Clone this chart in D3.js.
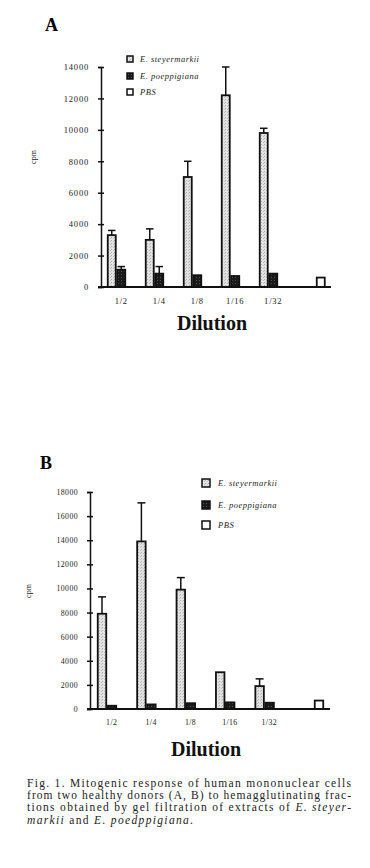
<!DOCTYPE html>
<html>
<head>
<meta charset="utf-8">
<script src="https://cdn.jsdelivr.net/npm/d3@7"></script>
<style>
  body { margin: 0; background: #fff; }
  svg { display: block; }
</style>
</head>
<body>
<svg id="fig" width="370" height="868"></svg>
<script>
    // 数据
    const dilutions = ["1/2", "1/4", "1/8", "1/16", "1/32", "PBS"]
    const seriesNames = ["E. steyermarkii", "E. poeppigiana", "PBS"]

    const aSteyermarkii = [3300, 3000, 7000, 12200, 9800, null]
    const aSteyermarkiiErr = [300, 700, 1000, 1800, 300, null]
    const aPoeppigiana = [1100, 850, 750, 700, 850, null]
    const aPoeppigianaErr = [200, 450, 0, 0, 0, null]
    const aPBS = [null, null, null, null, null, 600]
    const aTicks = [0, 2000, 4000, 6000, 8000, 10000, 12000, 14000]

    const bSteyermarkii = [7900, 13900, 9900, 3050, 1900, null]
    const bSteyermarkiiErr = [1400, 3200, 1000, 0, 600, null]
    const bPoeppigiana = [270, 380, 480, 550, 520, null]
    const bPoeppigianaErr = [0, 0, 0, 0, 0, null]
    const bPBS = [null, null, null, null, null, 700]
    const bTicks = [0, 2000, 4000, 6000, 8000, 10000, 12000, 14000, 16000, 18000]

    const captionLines = [
      [{t: "Fig. 1. Mitogenic response of human mononuclear cells"}],
      [{t: "from two healthy donors (A, B) to hemagglutinating frac-"}],
      [{t: "tions obtained by gel filtration of extracts of "}, {t: "E. steyer-", i: true}],
      [{t: "markii", i: true}, {t: " and "}, {t: "E. poedppigiana.", i: true}]
    ]

    const serif = "Liberation Serif, DejaVu Serif, serif"

    const svg = d3.select("#fig")
      .attr("font-family", serif)

    // 填充图案
    const defs = svg.append("defs")
    const light = defs.append("pattern").attr("id", "light")
      .attr("width", 3).attr("height", 3).attr("patternUnits", "userSpaceOnUse")
    light.append("rect").attr("width", 3).attr("height", 3).attr("fill", "#e4e4e4")
    light.append("rect").attr("width", 1).attr("height", 1).attr("fill", "#a8a8a8")
    light.append("rect").attr("x", 2).attr("y", 1).attr("width", 1).attr("height", 1).attr("fill", "#bdbdbd")
    const dark = defs.append("pattern").attr("id", "dark")
      .attr("width", 3).attr("height", 3).attr("patternUnits", "userSpaceOnUse")
    dark.append("rect").attr("width", 3).attr("height", 3).attr("fill", "#1a1a1a")
    dark.append("rect").attr("x", 1).attr("y", 1).attr("width", 1).attr("height", 1).attr("fill", "#555")

    const fills = ["url(#light)", "url(#dark)", "#fff"]

    function drawPanel(cfg) {
      const g = svg.append("g").attr("font-family", serif)
      const series = [
        {vals: cfg.st, errs: cfg.stErr},
        {vals: cfg.po, errs: cfg.poErr},
        {vals: cfg.pbs, errs: null}
      ]

      const y = d3.scaleLinear()
        .domain([0, d3.max(cfg.ticks)])
        .range([cfg.y0, cfg.y1])

      const x0 = d3.scaleBand()
        .domain(dilutions)
        .range([cfg.x0, cfg.x0 + cfg.step * dilutions.length])
        .paddingInner(0).paddingOuter(0)

      const x1 = d3.scaleBand()
        .domain(d3.range(series.length))
        .range([0, cfg.barW * series.length])

      // 柱子
      series.forEach((s, si) => {
        const data = dilutions.map((d, i) => ({cat: d, v: s.vals[i], e: s.errs ? s.errs[i] : 0}))
          .filter(d => d.v != null)

        g.append("g").selectAll("rect")
          .data(data)
          .join("rect")
          .attr("x", d => x0(d.cat) + x1(si) + 0.75)
          .attr("y", d => y(d.v))
          .attr("width", x1.bandwidth() - 1.5)
          .attr("height", d => y(0) - y(d.v))
          .attr("fill", fills[si])
          .attr("stroke", "#111")
          .attr("stroke-width", 1.8)

        const errs = data.filter(d => d.e > 0)
        const eg = g.append("g").attr("stroke", "#111").attr("stroke-width", 1.5)
        eg.selectAll("line.v")
          .data(errs)
          .join("line")
          .attr("class", "v")
          .attr("x1", d => x0(d.cat) + x1(si) + x1.bandwidth() / 2)
          .attr("x2", d => x0(d.cat) + x1(si) + x1.bandwidth() / 2)
          .attr("y1", d => y(d.v))
          .attr("y2", d => y(d.v + d.e))
        eg.selectAll("line.c")
          .data(errs)
          .join("line")
          .attr("class", "c")
          .attr("x1", d => x0(d.cat) + x1(si) + 1)
          .attr("x2", d => x0(d.cat) + x1(si) + x1.bandwidth() - 1)
          .attr("y1", d => y(d.v + d.e))
          .attr("y2", d => y(d.v + d.e))
      })

      // y 轴
      const yAxis = g.append("g")
        .attr("transform", `translate(${cfg.axisX},0)`)
        .call(d3.axisLeft(y).tickValues(cfg.ticks).tickSize(3).tickPadding(9).tickFormat(d3.format("d")))
        .attr("font-family", serif)
      yAxis.select(".domain").attr("stroke", "#111").attr("stroke-width", 1.5)
      yAxis.selectAll(".tick line").attr("x1", 3).attr("stroke", "#111").attr("stroke-width", 1.5)
      yAxis.selectAll(".tick text")
        .attr("font-size", cfg.tickFont)
        .attr("letter-spacing", cfg.tickSpacing)
        .attr("fill", "#222")

      // x 轴
      const xAxis = g.append("g")
        .attr("transform", `translate(0,${cfg.y0})`)
        .call(d3.axisBottom(x0).tickSize(0).tickPadding(cfg.xPad).tickFormat(d => d === "PBS" ? "" : d))
        .attr("font-family", serif)
      xAxis.select(".domain").remove()
      xAxis.selectAll(".tick text")
        .attr("dx", -cfg.barW / 2)
        .attr("font-size", cfg.tickFont)
        .attr("letter-spacing", cfg.tickSpacing)
        .attr("fill", "#222")
      xAxis.append("line")
        .attr("x1", cfg.axisX - 3).attr("x2", cfg.xEnd)
        .attr("stroke", "#111").attr("stroke-width", 2)

      // cpm
      g.append("text")
        .attr("transform", `translate(${cfg.cpmX},${cfg.cpmY}) rotate(-90)`)
        .attr("text-anchor", "middle")
        .attr("font-size", 8)
        .attr("fill", "#222")
        .text("cpm")

      // 面板标题
      g.append("text")
        .attr("x", cfg.titleX).attr("y", cfg.titleY)
        .attr("font-size", 18).attr("font-weight", "bold")
        .text(cfg.title)

      g.append("text")
        .attr("x", cfg.dilX).attr("y", cfg.dilY)
        .attr("text-anchor", "middle")
        .attr("font-size", 20).attr("font-weight", "bold")
        .attr("fill", "#111")
        .text("Dilution")

      // 图例
      const legend = g.append("g").selectAll("g")
        .data(seriesNames)
        .join("g")
        .attr("transform", (d, i) => `translate(${cfg.legX},${cfg.legY[i]})`)
      legend.append("rect")
        .attr("x", 0).attr("y", -cfg.legSize / 2)
        .attr("width", cfg.legSize).attr("height", cfg.legSize)
        .attr("fill", (d, i) => fills[i])
        .attr("stroke", "#111").attr("stroke-width", 1.5)
      legend.append("text")
        .attr("x", cfg.legTextX).attr("y", 3)
        .attr("font-size", 8.5)
        .attr("font-style", "italic")
        .attr("letter-spacing", 0.5)
        .attr("fill", "#222")
        .text(d => d)
    }

    drawPanel({
      title: "A", titleX: 45, titleY: 31,
      st: aSteyermarkii, stErr: aSteyermarkiiErr,
      po: aPoeppigiana, poErr: aPoeppigianaErr, pbs: aPBS,
      ticks: aTicks,
      y0: 287, y1: 67, x0: 107, step: 38, barW: 9.5,
      axisX: 101, xEnd: 331,
      tickFont: 8.5, tickSpacing: 0.8, xPad: 11,
      cpmX: 36, cpmY: 157,
      dilX: 212, dilY: 330,
      legX: 127, legY: [59, 76, 92], legSize: 6, legTextX: 13
    })

    drawPanel({
      title: "B", titleX: 40, titleY: 469,
      st: bSteyermarkii, stErr: bSteyermarkiiErr,
      po: bPoeppigiana, poErr: bPoeppigianaErr, pbs: bPBS,
      ticks: bTicks,
      y0: 709, y1: 492, x0: 97, step: 39.4, barW: 10,
      axisX: 90, xEnd: 330,
      tickFont: 7.8, tickSpacing: 0.4, xPad: 10,
      cpmX: 31, cpmY: 591,
      dilX: 206, dilY: 756,
      legX: 202, legY: [483, 505, 525], legSize: 8, legTextX: 16
    })

    // 图注
    const cap = svg.append("g")
      .attr("font-family", serif)
      .attr("font-size", 11.5)
      .attr("fill", "#222")
    const capWidths = [324, 324, 324, 166]
    captionLines.forEach((line, i) => {
      const t = cap.append("text")
        .attr("x", 27)
        .attr("y", 787 + i * 12.2)
        .attr("textLength", capWidths[i])
        .attr("lengthAdjust", "spacing")
      line.forEach(seg => {
        t.append("tspan")
          .attr("font-style", seg.i ? "italic" : null)
          .text(seg.t)
      })
    })
</script>
</body>
</html>
